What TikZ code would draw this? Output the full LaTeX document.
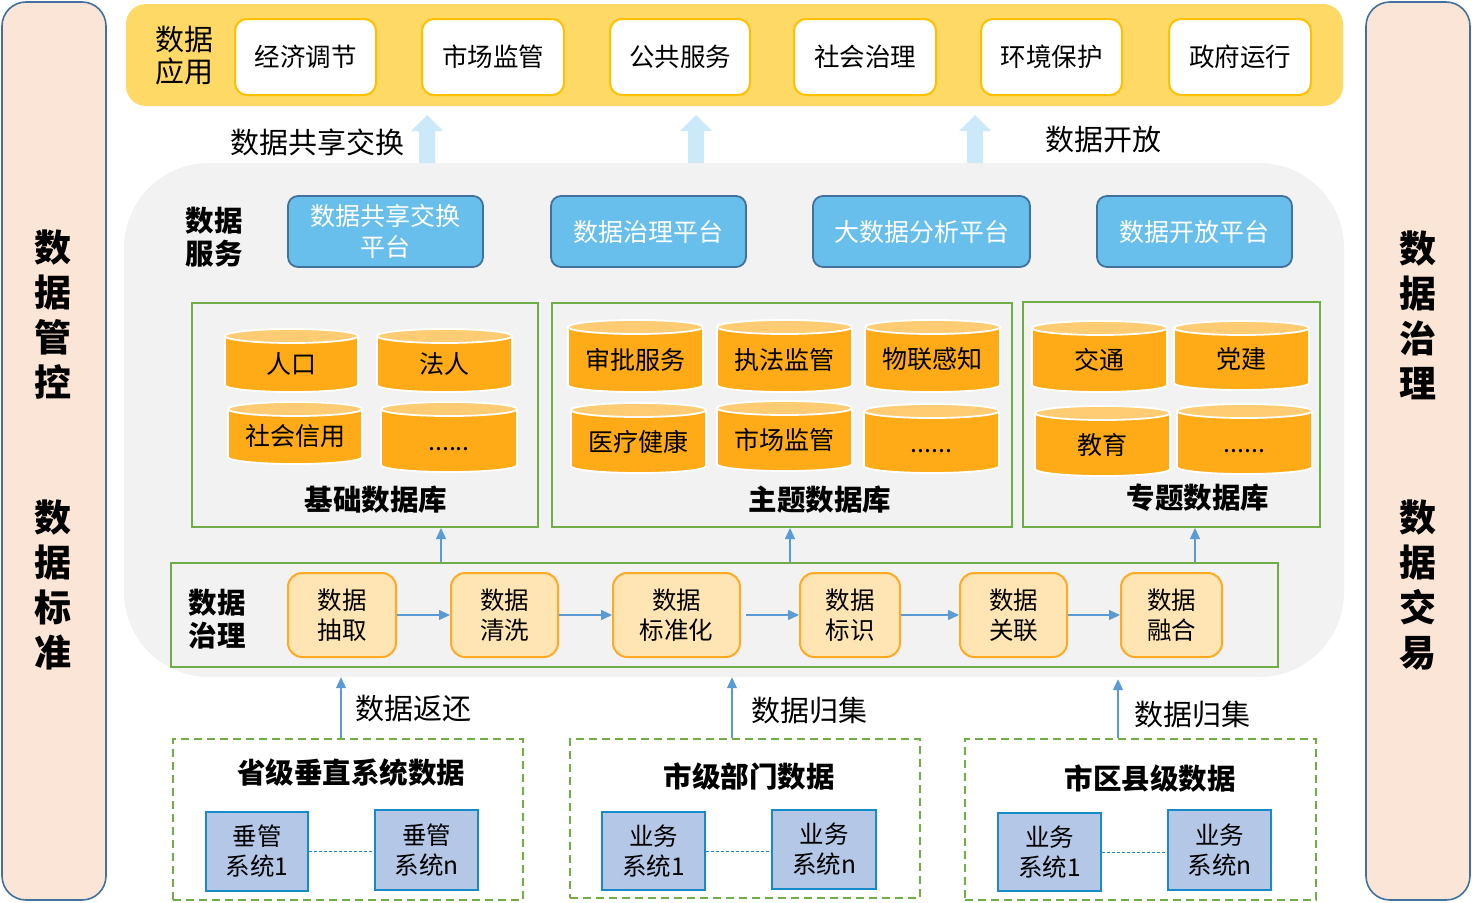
\documentclass[tikz,border=0pt]{standalone}
\usepackage{fontspec}
\setmainfont{Noto Sans CJK SC}
\usetikzlibrary{arrows.meta,calc}
\definecolor{peach}{HTML}{FBE5D6}
\definecolor{barb}{HTML}{41719C}
\definecolor{bandf}{HTML}{FFD966}
\definecolor{appb}{HTML}{FFC000}
\definecolor{lblue}{HTML}{CCE9FA}
\definecolor{greyf}{HTML}{F2F2F2}
\definecolor{platf}{HTML}{68BFEB}
\definecolor{platb}{HTML}{41719C}
\definecolor{grn}{HTML}{70AD47}
\definecolor{cylb}{HTML}{FFAA17}
\definecolor{cylt}{HTML}{FFCC73}
\definecolor{stepf}{HTML}{FFE5B3}
\definecolor{stepb}{HTML}{FFAA22}
\definecolor{arrb}{HTML}{5B9BD5}
\definecolor{sysf}{HTML}{B4C7E7}
\definecolor{sysb}{HTML}{168BC8}
\newcommand\rbox[7][]{\node[#1, inner sep=0pt, minimum width={(#5)-(#3)}, minimum height={(#6)-(#4)}] (#2) at ({((#3)+(#5))/2},{((#4)+(#6))/2}) {#7};}
\newcommand\dbc[7][0]{%
  \pgfmathsetmacro\cx{(#3+#5)/2}%
  \pgfmathsetmacro\rx{(#5-#3)/2}%
  \pgfmathsetmacro\ta{#4+7}%
  \pgfmathsetmacro\bb{#6-7}%
  \filldraw[fill=cylb, draw=white, line width=1.8pt] (\cx,\bb) ellipse[x radius=\rx pt, y radius=7pt];
  \fill[cylb] (#3,\ta) rectangle (#5,\bb);
  \draw[white, line width=1.8pt] (#3,\ta) -- (#3,\bb) (#5,\ta) -- (#5,\bb);
  \filldraw[fill=cylt, draw=white, line width=1.8pt] (\cx,\ta) ellipse[x radius=\rx pt, y radius=7pt];
  \node[cyltext] (#2) at (\cx,{(\ta+#6)/2+#1}) {#7};}
\newcommand\uparr[1]{\fill[lblue] (#1-8,163) -- (#1-8,131) -- (#1-16,131) -- (#1,115) -- (#1+16,131) -- (#1+8,131) -- (#1+8,163) -- cycle;}
\begin{document}
\begin{tikzpicture}[x=1pt,y=-1pt,
  sidebar/.style={draw=barb, fill=peach, line width=1.6pt, rounded corners=24pt},
  band/.style={fill=bandf, rounded corners=20pt},
  appbox/.style={draw=appb, fill=white, line width=2pt, rounded corners=12pt, font=\fontsize{25.5}{30}\selectfont},
  platbox/.style={draw=platb, fill=platf, line width=1.8pt, rounded corners=10pt, text=white, align=center, font=\fontsize{25}{31}\selectfont},
  svcbg/.style={fill=greyf, rounded corners=85pt},
  grnbox/.style={draw=grn, line width=2pt},
  cyltext/.style={inner sep=0pt, font=\fontsize{25}{28}\selectfont},
  stepbox/.style={draw=stepb, fill=stepf, line width=2pt, rounded corners=14pt, align=center, font=\fontsize{24.5}{30}\selectfont},
  srcbox/.style={draw=grn, dash pattern=on 8pt off 5pt, line width=2pt},
  sysbox/.style={draw=sysb, fill=sysf, line width=1.5pt, align=center, font=\fontsize{24.5}{30}\selectfont},
  flow/.style={draw=arrb, line width=1.2pt, -{Triangle[width=10pt,length=11pt]}},
  link/.style={draw=sysb, line width=1pt, dash pattern=on 3pt off 2pt},
  hdr/.style={inner sep=0pt, align=center, font=\bfseries\fontsize{28.5}{33}\selectfont},
  lbl/.style={inner sep=0pt, align=center, font=\fontsize{29}{33}\selectfont},
  vtxt/.style={inner sep=0pt, align=center, font=\bfseries\fontsize{37}{45}\selectfont}]
\useasboundingbox (0,0) rectangle (1472,902);
% side bars
\rbox[sidebar]{lbar}{2}{2}{106}{900}{}
\rbox[sidebar]{rbar}{1366}{2}{1470}{900}{}
\node[vtxt] (lt1) at (53,315) {数\\据\\管\\控};
\node[vtxt] (lt2) at (53,585) {数\\据\\标\\准};
\node[vtxt] (rt1) at (1418,315) {数\\据\\治\\理};
\node[vtxt] (rt2) at (1418,585) {数\\据\\交\\易};
% application band
\rbox[band]{app}{126}{4}{1343}{106}{}
\node[lbl, font=\fontsize{29}{32}\selectfont] (apptitle) at (184,56) {数据\\应用};
\rbox[appbox]{a1}{235}{19}{376}{95}{经济调节}
\rbox[appbox]{a2}{422}{19}{564}{95}{市场监管}
\rbox[appbox]{a3}{610}{19}{750}{95}{公共服务}
\rbox[appbox]{a4}{794}{19}{936}{95}{社会治理}
\rbox[appbox]{a5}{981}{19}{1122}{95}{环境保护}
\rbox[appbox]{a6}{1169}{19}{1311}{95}{政府运行}
% service region
\rbox[svcbg]{svc}{124}{163}{1344}{677}{}
\uparr{427}
\uparr{696}
\uparr{975}
\node[lbl] (share) at (317,142) {数据共享交换};
\node[lbl] (open) at (1103,140) {数据开放};
\node[hdr] (svctitle) at (214,237) {数据\\服务};
\rbox[platbox]{p1}{288}{196}{483}{267}{数据共享交换\\平台}
\rbox[platbox]{p2}{551}{196}{746}{267}{数据治理平台}
\rbox[platbox]{p3}{813}{196}{1030}{267}{大数据分析平台}
\rbox[platbox]{p4}{1097}{196}{1292}{267}{数据开放平台}
% databases
\rbox[grnbox]{jc}{192}{303}{538}{527}{}
\rbox[grnbox]{zt}{552}{303}{1012}{527}{}
\rbox[grnbox]{zx}{1023}{302}{1320}{527}{}
\dbc{c1}{225}{329}{358}{392}{人口}
\dbc{c2}{377}{329}{512}{392}{法人}
\dbc{c3}{228}{402}{362}{464}{社会信用}
\dbc[9]{c4}{381}{402}{517}{472}{......}
\dbc{c5}{568}{320}{703}{392}{审批服务}
\dbc{c6}{717}{320}{852}{392}{执法监管}
\dbc{c7}{865}{320}{1000}{392}{物联感知}
\dbc{c8}{571}{403}{706}{473}{医疗健康}
\dbc{c9}{717}{401}{852}{471}{市场监管}
\dbc[9]{c10}{864}{404}{999}{473}{......}
\dbc{c11}{1032}{321}{1167}{392}{交通}
\dbc{c12}{1174}{321}{1309}{390}{党建}
\dbc{c13}{1035}{406}{1170}{476}{教育}
\dbc[9]{c14}{1177}{404}{1312}{474}{......}
\node[hdr] (jct) at (376,500) {基础数据库};
\node[hdr] (ztt) at (820,500) {主题数据库};
\node[hdr] (zxt) at (1198,498) {专题数据库};
% governance
\rbox[grnbox]{gov}{171}{563}{1278}{667}{}
\node[hdr] (govt) at (217,619) {数据\\治理};
\rbox[stepbox]{s1}{288}{573}{396}{657}{数据\\抽取}
\rbox[stepbox]{s2}{451}{573}{558}{657}{数据\\清洗}
\rbox[stepbox]{s3}{613}{573}{740}{657}{数据\\标准化}
\rbox[stepbox]{s4}{800}{573}{900}{657}{数据\\标识}
\rbox[stepbox]{s5}{960}{573}{1067}{657}{数据\\关联}
\rbox[stepbox]{s6}{1121}{573}{1222}{657}{数据\\融合}
\draw[flow] (s1.east) -- (s2.west);
\draw[flow] (s2.east) -- (s3.west);
\draw[flow, shorten <=5pt] (s3.east) -- (s4.west);
\draw[flow] (s4.east) -- (s5.west);
\draw[flow] (s5.east) -- (s6.west);
\coordinate (u1) at (441,0);
\coordinate (u2) at (790,0);
\coordinate (u3) at (1195,0);
\draw[flow] (gov.north -| u1) -- (jc.south -| u1);
\draw[flow] (gov.north -| u2) -- (zt.south -| u2);
\draw[flow] (gov.north -| u3) -- (zx.south -| u3);
% sources
\rbox[srcbox]{d1}{173}{739}{523}{900}{}
\rbox[srcbox]{d2}{570}{739}{920}{898}{}
\rbox[srcbox]{d3}{965}{739}{1316}{900}{}
\node[hdr] (d1t) at (351,773) {省级垂直系统数据};
\node[hdr] (d2t) at (749,777) {市级部门数据};
\node[hdr] (d3t) at (1150,779) {市区县级数据};
\rbox[sysbox]{q1}{206}{812}{308}{891}{垂管\\系统1}
\rbox[sysbox]{q2}{375}{810}{478}{890}{垂管\\系统n}
\rbox[sysbox]{q3}{602}{812}{705}{890}{业务\\系统1}
\rbox[sysbox]{q4}{772}{810}{876}{889}{业务\\系统n}
\rbox[sysbox]{q5}{998}{813}{1101}{891}{业务\\系统1}
\rbox[sysbox]{q6}{1168}{810}{1271}{890}{业务\\系统n}
\draw[link] (q1.east) -- (q1.east -| q2.west);
\draw[link] (q3.east) -- (q3.east -| q4.west);
\draw[link] (q5.east) -- (q5.east -| q6.west);
\coordinate (b1) at (341,0);
\coordinate (b2) at (732,0);
\coordinate (b3) at (1118,0);
\draw[flow] (d1.north -| b1) -- (svc.south -| b1);
\draw[flow] (d2.north -| b2) -- (svc.south -| b2);
\draw[flow] (d3.north -| b3) -- ($(svc.south -| b3)+(0,2)$);
\node[lbl] (ret) at (413,708) {数据返还};
\node[lbl] (col1) at (809,710) {数据归集};
\node[lbl] (col2) at (1192,714) {数据归集};
\end{tikzpicture}
\end{document}
